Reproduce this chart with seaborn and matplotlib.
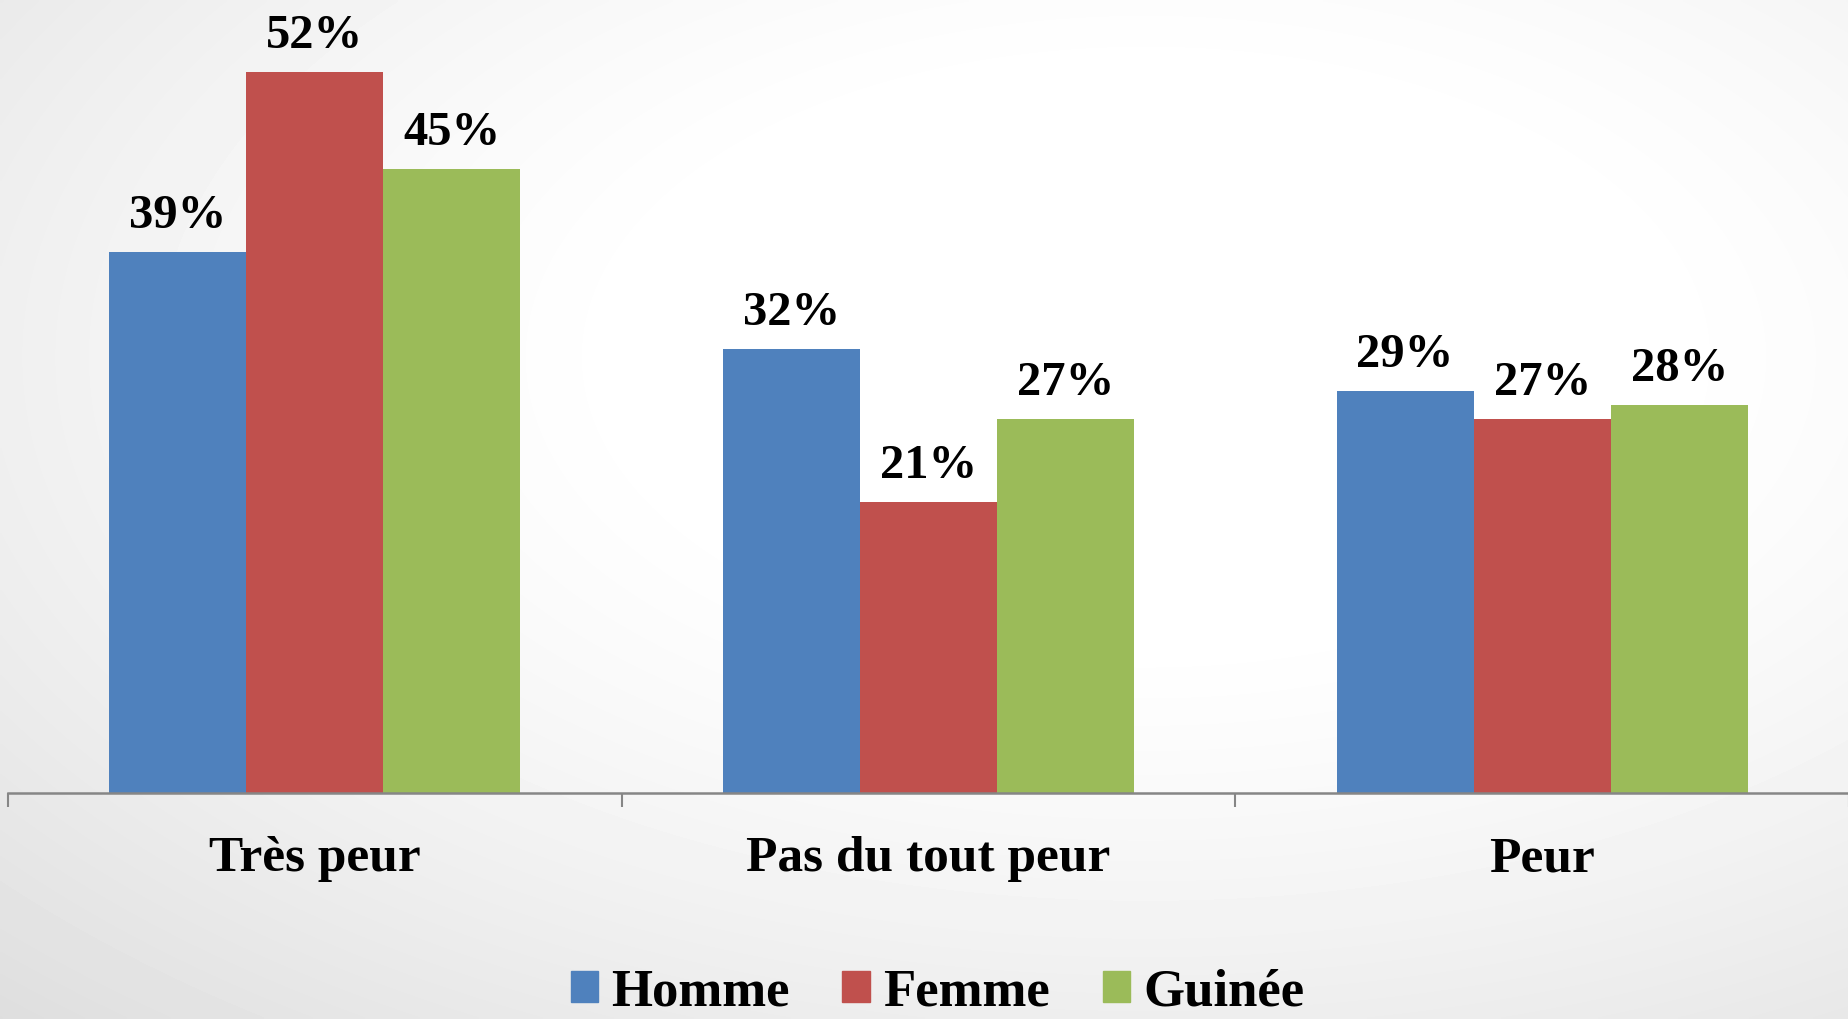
import numpy as np
import pandas as pd
import matplotlib
matplotlib.use("Agg")
import matplotlib.pyplot as plt
import seaborn as sns

# Data
categories = ["Très peur", "Pas du tout peur", "Peur"]
groups = ["Homme", "Femme", "Guinée"]
homme = [39, 32, 29]
femme = [52, 21, 27]
guinee = [45, 27, 28]
colors = ["#4F81BD", "#C0504D", "#9BBB59"]

df = pd.DataFrame({
    "categorie": categories * 3,
    "groupe": [g for g in groups for _ in categories],
    "valeur": homme + femme + guinee,
})

sns.set_style("white")
plt.rcParams["font.family"] = ["Liberation Serif", "DejaVu Serif"]
plt.rcParams["font.weight"] = "bold"
plt.rcParams["text.color"] = "black"
plt.rcParams["xtick.color"] = "black"

W, H = 1849, 1019
fig = plt.figure(figsize=(W / 100, H / 100), dpi=100)

# radial grey-to-white background like the slide
bg = fig.add_axes([0, 0, 1, 1], zorder=-10)
yy, xx = np.mgrid[0:1:300j, 0:1:540j]
d = np.sqrt(((xx - 0.62) / 0.75) ** 2 + ((yy - 0.35) / 0.75) ** 2)
shade = 1.0 - 0.16 * np.clip(d - 0.35, 0, None) ** 1.3
bg.imshow(shade, cmap="gray", vmin=0, vmax=1, aspect="auto",
          extent=[0, 1, 1, 0], interpolation="bilinear")
bg.axis("off")

ax = fig.add_axes([8 / W, 1 - 793 / H, 1 - 8 / W, 793 / H])
ax.patch.set_alpha(0)

sns.barplot(data=df, x="categorie", y="valeur", hue="groupe",
            palette=colors, width=0.67, ax=ax, saturation=1,
            order=categories, hue_order=groups, linewidth=0,
            edgecolor="none")

for cont in ax.containers:
    labels = [f"{v:.0f}%" for v in cont.datavalues]
    ax.bar_label(cont, labels=labels, padding=10, fontsize=35,
                 fontweight="bold", color="black")

ax.set_xlim(-0.5, 2.5)
ax.set_ylim(0, 57.2)
ax.set_yticks([])
ax.set_xlabel("")
ax.set_ylabel("")
for s in ["top", "right", "left"]:
    ax.spines[s].set_visible(False)
ax.spines["bottom"].set_color("#868686")
ax.spines["bottom"].set_linewidth(1.8)

ax.set_xticks([0, 1, 2])
ax.set_xticklabels(categories, fontsize=37, fontweight="bold", color="black")
ax.tick_params(axis="x", which="major", length=0, pad=31)
ax.set_xticks([-0.5, 0.5, 1.5, 2.5], minor=True)
ax.tick_params(axis="x", which="minor", length=10, width=1.5,
               color="#868686", direction="out", bottom=True)

ax.legend_.remove()
handles = [plt.Rectangle((0, 0), 1, 1, color=c) for c in colors]
fig.legend(handles, groups, loc="center", bbox_to_anchor=(0.507, 0.026),
           ncol=3, frameon=False, prop={"size": 38, "weight": "bold"},
           handlelength=0.52, handleheight=0.52, handletextpad=0.25,
           columnspacing=1.0, borderpad=0.1)

fig.savefig("out.png", dpi=100)
